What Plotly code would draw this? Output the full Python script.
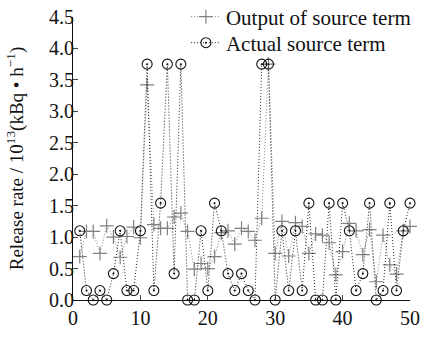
import plotly.graph_objects as go

x_vals = list(range(1, 51))
output_term = [0.69, 1.09, 1.09, 0.74, 1.18, 1.00, 0.68, 1.01, 1.16, 0.99,
               3.42, 1.20, 1.14, 1.14, 1.32, 1.38, 1.09, 0.49, 0.58, 0.50,
               0.69, 1.07, 1.10, 0.89, 1.14, 1.09, 0.95, 1.30, 3.75, 0.74,
               1.25, 0.70, 1.23, 1.17, 0.74, 1.05, 1.03, 0.91, 0.40, 0.77,
               1.22, 1.10, 0.72, 1.12, 0.29, 1.03, 0.56, 0.41, 1.10, 1.17]
actual_term = [1.10, 0.15, 0.00, 0.15, 0.00, 0.42, 1.10, 0.15, 0.15, 1.10,
               3.75, 0.15, 1.54, 3.75, 0.42, 3.75, 0.00, 0.00, 1.10, 0.15,
               1.54, 1.10, 0.42, 0.15, 0.42, 0.15, 0.00, 3.75, 3.75, 0.00,
               1.10, 0.15, 1.10, 0.15, 1.54, 0.00, 0.00, 1.54, 0.00, 1.54,
               1.10, 0.15, 0.42, 1.54, 0.00, 0.15, 1.54, 0.15, 1.10, 1.54]
x_ticks = [0, 10, 20, 30, 40, 50]
y_ticks = [0.0, 0.5, 1.0, 1.5, 2.0, 2.5, 3.0, 3.5, 4.0, 4.5]
y_tick_text = [f"{v:.1f}" for v in y_ticks]

font = "Liberation Serif, Times New Roman, serif"

fig = go.Figure()
fig.add_trace(go.Scatter(
    x=x_vals, y=output_term, name="Output of source term",
    mode="lines+markers", legend="legend",
    line=dict(color="#808080", width=1, dash="1px,2px"),
    marker=dict(symbol="cross-thin-open", size=10, color="#808080",
                line=dict(color="#808080", width=1.2)),
    cliponaxis=False,
))
fig.add_trace(go.Scatter(
    x=x_vals, y=actual_term, name="Actual source term",
    mode="lines+markers", legend="legend2",
    line=dict(color="#222222", width=1, dash="1px,2px"),
    marker=dict(symbol="circle-open-dot", size=10, color="#111111",
                line=dict(color="#111111", width=1.1)),
    cliponaxis=False,
))

legend_style = dict(xanchor="left", yanchor="middle",
                    bgcolor="rgba(0,0,0,0)", font=dict(size=21),
                    itemwidth=30)

fig.update_layout(
    width=421, height=337,
    margin=dict(l=73, r=11, t=17, b=37, autoexpand=False),
    paper_bgcolor="white", plot_bgcolor="white",
    font=dict(family=font, size=19, color="#111111"),
    showlegend=True,
    legend=dict(x=0.335, y=1.0, **legend_style),
    legend2=dict(x=0.335, y=0.908, **legend_style),
)
fig.update_xaxes(
    range=[0, 50], tickvals=x_ticks, ticks="inside", ticklen=5,
    showline=True, linecolor="#111111", linewidth=1.2,
    showgrid=False, zeroline=False, tickfont=dict(size=20),
    automargin=False,
)
fig.update_yaxes(
    range=[0, 4.5], tickvals=y_ticks, ticktext=y_tick_text,
    ticks="inside", ticklen=5, ticklabelstandoff=-6,
    showline=True, linecolor="#111111", linewidth=1.2,
    showgrid=False, zeroline=False, tickfont=dict(size=20),
    automargin=False,
    title=dict(text="Release rate / 10<sup>13</sup>(kBq \u2022 h<sup>\u22121</sup>)",
               font=dict(size=19), standoff=20),
)

fig.write_html(
    "out.html",
    config={"displayModeBar": False},
    post_script="document.body.style.margin='0';document.body.style.overflow='hidden';",
)
